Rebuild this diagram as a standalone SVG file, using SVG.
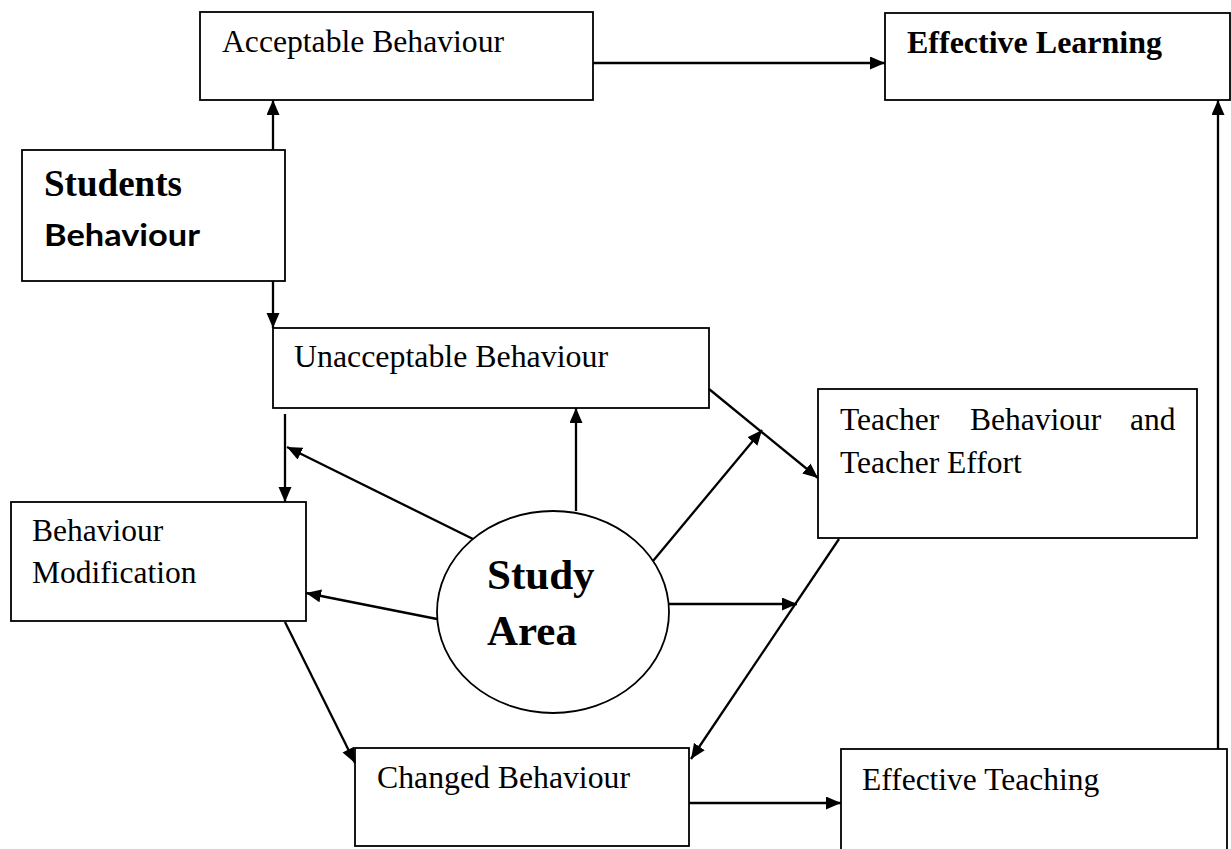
<svg xmlns="http://www.w3.org/2000/svg" width="1231" height="849" viewBox="0 0 1231 849">
<style>
.box{fill:#fff;stroke:#000;stroke-width:1.8}
.t{font-family:"Liberation Serif","Times New Roman",serif;font-size:31.5px;fill:#000}
.tb{font-family:"Liberation Serif","Times New Roman",serif;font-weight:bold;fill:#000}
.ts{font-family:Lato,"Liberation Sans",sans-serif;font-weight:bold;fill:#000}
.c{stroke:#000;stroke-width:2.3;fill:none;marker-end:url(#ah)}
</style>
<defs>
<marker id="ah" markerUnits="userSpaceOnUse" markerWidth="16" markerHeight="14" refX="15" refY="6.5" orient="auto">
<path d="M0,0 L15,6.5 L0,13 z" fill="#000"/>
</marker>
</defs>
<rect width="1231" height="849" fill="#fff"/>
<g id="acceptable">
<rect class="box" x="200" y="12" width="393" height="88"/>
<text class="t" x="222" y="52" textLength="282" lengthAdjust="spacingAndGlyphs">Acceptable Behaviour</text>
</g>
<g id="effective-learning">
<rect class="box" x="885" y="13" width="345" height="87"/>
<text class="tb" x="907" y="53" font-size="31" textLength="255" lengthAdjust="spacingAndGlyphs">Effective Learning</text>
</g>
<g id="students">
<rect class="box" x="22" y="150" width="263" height="131"/>
<text class="tb" x="44" y="196" font-size="37" textLength="138" lengthAdjust="spacingAndGlyphs">Students</text>
<text class="ts" x="44" y="246" font-size="30" textLength="156" lengthAdjust="spacingAndGlyphs">Behaviour</text>
</g>
<g id="unacceptable">
<rect class="box" x="273" y="328" width="436" height="80"/>
<text class="t" x="294" y="367" textLength="314" lengthAdjust="spacingAndGlyphs">Unacceptable Behaviour</text>
</g>
<g id="teacher">
<rect class="box" x="818" y="389" width="379" height="149"/>
<text class="t" y="430"><tspan x="840">Teacher</tspan><tspan x="970">Behaviour</tspan><tspan x="1130">and</tspan></text>
<text class="t" x="840" y="473">Teacher Effort</text>
</g>
<g id="modification">
<rect class="box" x="11" y="502" width="295" height="119"/>
<text class="t" x="32" y="541">Behaviour</text>
<text class="t" x="32" y="583">Modification</text>
</g>
<g id="study-area">
<ellipse cx="553" cy="612" rx="116" ry="101" fill="#fff" stroke="#000" stroke-width="1.8"/>
<text class="tb" x="487" y="589" font-size="43">Study</text>
<text class="tb" x="487" y="645" font-size="43">Area</text>
</g>
<g id="changed">
<rect class="box" x="355" y="748" width="334" height="98"/>
<text class="t" x="377" y="788" textLength="253" lengthAdjust="spacingAndGlyphs">Changed Behaviour</text>
</g>
<g id="effective-teaching">
<rect class="box" x="841" y="749" width="386" height="110"/>
<text class="t" x="862" y="790">Effective Teaching</text>
</g>
<g id="connectors">
<line class="c" x1="593" y1="63" x2="885" y2="63"/>
<line class="c" x1="273" y1="150" x2="273" y2="100"/>
<line class="c" x1="273" y1="281" x2="273" y2="328"/>
<line class="c" x1="285" y1="414" x2="285" y2="502"/>
<line class="c" x1="473" y1="539" x2="287" y2="447"/>
<line class="c" x1="576" y1="511" x2="576" y2="408"/>
<line class="c" x1="653" y1="561" x2="762" y2="430"/>
<line class="c" x1="709" y1="389" x2="818" y2="478"/>
<line class="c" x1="437" y1="619" x2="306" y2="593"/>
<line class="c" x1="669" y1="604" x2="797" y2="604"/>
<line class="c" x1="285" y1="622" x2="355" y2="763"/>
<line class="c" x1="839" y1="539" x2="691" y2="759"/>
<line class="c" x1="689" y1="803" x2="841" y2="803"/>
<line class="c" x1="1218" y1="749" x2="1218" y2="100"/>
</g>
</svg>
